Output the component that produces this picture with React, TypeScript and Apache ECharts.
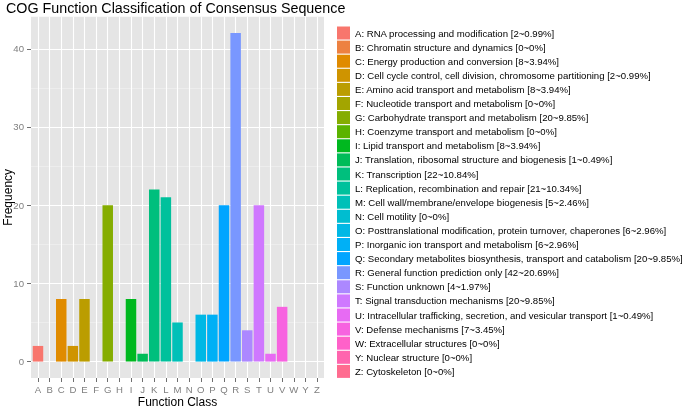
import React, { useEffect, useRef } from "react";
import * as echarts from "echarts";

const letters = ["A","B","C","D","E","F","G","H","I","J","K","L","M","N","O","P","Q","R","S","T","U","V","W","Y","Z"];
const descriptions = [
  "RNA processing and modification",
  "Chromatin structure and dynamics",
  "Energy production and conversion",
  "Cell cycle control, cell division, chromosome partitioning",
  "Amino acid transport and metabolism",
  "Nucleotide transport and metabolism",
  "Carbohydrate transport and metabolism",
  "Coenzyme transport and metabolism",
  "Lipid transport and metabolism",
  "Translation, ribosomal structure and biogenesis",
  "Transcription",
  "Replication, recombination and repair",
  "Cell wall/membrane/envelope biogenesis",
  "Cell motility",
  "Posttranslational modification, protein turnover, chaperones",
  "Inorganic ion transport and metabolism",
  "Secondary metabolites biosynthesis, transport and catabolism",
  "General function prediction only",
  "Function unknown",
  "Signal transduction mechanisms",
  "Intracellular trafficking, secretion, and vesicular transport",
  "Defense mechanisms",
  "Extracellular structures",
  "Nuclear structure",
  "Cytoskeleton",
];
const counts = [2,0,8,2,8,0,20,0,8,1,22,21,5,0,6,6,20,42,4,20,1,7,0,0,0];
const percents = ["0.99","0","3.94","0.99","3.94","0","9.85","0","3.94","0.49","10.84","10.34","2.46","0","2.96","2.96","9.85","20.69","1.97","9.85","0.49","3.45","0","0","0"];
const yTicks = [0, 10, 20, 30, 40];
const yMinorLines = [5, 15, 25, 35];
const xTitle = "Function Class";
const yTitle = "Frequency";

// ggplot2-style hue palette (HCL, c=100, l=65)
function hcl(h: number, c: number, l: number): string {
  const hr = (h * Math.PI) / 180;
  const U = c * Math.cos(hr);
  const V = c * Math.sin(hr);
  const Xn = 95.047, Yn = 100, Zn = 108.883;
  const den = Xn + 15 * Yn + 3 * Zn;
  const un = (4 * Xn) / den, vn = (9 * Yn) / den;
  const Y = l > 8 ? Yn * Math.pow((l + 16) / 116, 3) : (Yn * l) / 903.3;
  const u = U / (13 * l) + un;
  const v = V / (13 * l) + vn;
  const X = (9 * Y * u) / (4 * v);
  const Z = (Y * (12 - 3 * u - 20 * v)) / (4 * v);
  const x = X / 100, y = Y / 100, z = Z / 100;
  const lin = [
    3.2406 * x - 1.5372 * y - 0.4986 * z,
    -0.9689 * x + 1.8758 * y + 0.0415 * z,
    0.0557 * x - 0.204 * y + 1.057 * z,
  ];
  return (
    "#" +
    lin
      .map((cc) => {
        let g = cc <= 0.0031308 ? 12.92 * cc : 1.055 * Math.pow(cc, 1 / 2.4) - 0.055;
        g = Math.max(0, Math.min(1, g));
        return Math.round(g * 255).toString(16).padStart(2, "0");
      })
      .join("")
  );
}

const n = letters.length;
const colors = letters.map((_, i) => hcl(15 + (i * (360 - 360 / n)) / (n - 1), 100, 65));

export default function App() {
  const ref = useRef<HTMLDivElement>(null);
  useEffect(() => {
    if (!ref.current) return;
    const chart = echarts.init(ref.current, undefined, { renderer: "svg" });
    const gridLines: any[] = [
      ...yMinorLines.map((v) => ({ yAxis: v, lineStyle: { color: "#F2F2F2", width: 0.6, type: "solid" } })),
      ...yTicks.map((v) => ({ yAxis: v, lineStyle: { color: "#FFFFFF", width: 1.1, type: "solid" } })),
      ...letters.map((_, i) => ({ xAxis: i, lineStyle: { color: "#FFFFFF", width: 1.1, type: "solid" } })),
    ];
    const series: any[] = letters.map((L, i) => ({
      type: "bar",
      name: `${L}: ${descriptions[i]} [${counts[i]}~${percents[i]}%]`,
      data: [[i, counts[i]]],
      barWidth: 10.5,
      barGap: "-100%",
      z: 2,
      itemStyle: { color: colors[i] },
      ...(i === 0
        ? {
            markLine: {
              z: 1,
              silent: true,
              symbol: "none",
              label: { show: false },
              emphasis: { disabled: true },
              data: gridLines,
            },
          }
        : {}),
    }));
    const hiddenLine = { show: true, onZero: false, lineStyle: { color: "rgba(0,0,0,0)", width: 0 } };
    const titleFont = { fontFamily: "Liberation Sans", fontSize: 12, fill: "#000" };
    chart.setOption({
      animation: false,
      title: {
        text: "COG Function Classification of Consensus Sequence",
        left: 6,
        top: 1,
        padding: 0,
        textStyle: { fontFamily: "Liberation Sans", fontSize: 14.3, fontWeight: "normal", color: "#000" },
      },
      graphic: [
        {
          type: "text",
          x: 177.5,
          y: 401.5,
          style: { text: xTitle, align: "center", verticalAlign: "middle", ...titleFont },
        },
        {
          type: "text",
          x: 7.5,
          y: 197.3,
          rotation: Math.PI / 2,
          style: { text: yTitle, align: "center", verticalAlign: "middle", ...titleFont },
        },
      ],
      grid: {
        left: 31,
        top: 16.7,
        width: 293,
        height: 361.3,
        show: true,
        backgroundColor: "#E5E5E5",
        borderWidth: 0,
        containLabel: false,
        outerBoundsMode: "none",
      },
      xAxis: {
        type: "value",
        min: -0.6,
        max: 24.6,
        axisLine: hiddenLine,
        splitLine: { show: false },
        axisTick: { show: true, inside: false, length: 4, customValues: letters.map((_, i) => i), lineStyle: { color: "#6F6F6F", width: 1 } },
        axisLabel: {
          customValues: letters.map((_, i) => i),
          formatter: (v: number) => letters[Math.round(v)] ?? "",
          margin: 6,
          fontFamily: "Liberation Sans",
          fontSize: 9.6,
          color: "#7F7F7F",
        },
      },
      yAxis: {
        type: "value",
        min: -2.1,
        max: 44.1,
        axisLine: hiddenLine,
        splitLine: { show: false },
        axisTick: { show: true, inside: false, length: 4, customValues: yTicks, lineStyle: { color: "#6F6F6F", width: 1 } },
        axisLabel: {
          customValues: yTicks,
          margin: 7,
          fontFamily: "Liberation Sans",
          fontSize: 9.6,
          color: "#7F7F7F",
        },
      },
      legend: {
        orient: "vertical",
        left: 337,
        top: 26.5,
        padding: 0,
        itemWidth: 13,
        itemHeight: 13,
        itemGap: 1.1,
        icon: "rect",
        selectedMode: false,
        textStyle: { fontFamily: "Liberation Sans", fontSize: 9.6, color: "#000" },
        data: series.map((s) => s.name),
      },
      series,
    });
    return () => chart.dispose();
  }, []);
  return <div ref={ref} style={{ position: "fixed", left: 0, top: 0, width: 685, height: 407 }} />;
}
